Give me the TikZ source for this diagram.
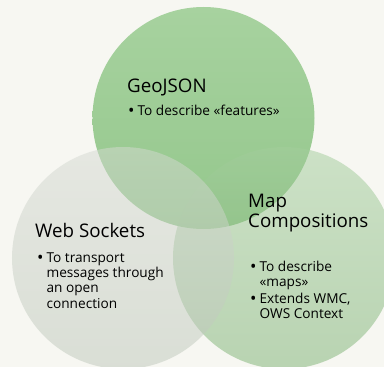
\documentclass[tikz,border=0pt]{standalone}
\usepackage{fontspec}
\setmainfont{Open Sans}
\usepackage{tikz}
\usetikzlibrary{shapes.geometric, positioning, calc}
\usepackage{xcolor}

\definecolor{bgpaper}{RGB}{247,247,242}
\definecolor{geotop}{RGB}{167,210,159}
\definecolor{geobot}{RGB}{148,199,140}
\definecolor{maptop}{RGB}{163,205,156}
\definecolor{mapbot}{RGB}{123,177,114}
\definecolor{webtop}{RGB}{213,217,210}
\definecolor{webbot}{RGB}{189,199,186}

\newcommand{\bul}{\raisebox{-1.2pt}{\scalebox{1.25}{\textbullet}}}

\begin{document}
\begin{tikzpicture}[x=1bp, y=1bp,
    blob/.style={circle, inner sep=0pt, minimum size=222bp},
    title/.style={anchor=base west, inner sep=0pt, font=\fontsize{18.8}{20}\selectfont, align=left},
    body/.style={anchor=base west, inner sep=0pt, font=\fontsize{13.7}{15.5}\selectfont},
  ]
      \useasboundingbox[fill=bgpaper] (0, 0) rectangle (384, 367);

      % the three circles
      \node[blob, top color=geotop, bottom color=geobot] (geo) at (203.5, 249) {};
      \node[blob, top color=maptop, bottom color=mapbot, fill opacity=0.5] (map) at (284, 109) {};
      \node[blob, top color=webtop, bottom color=webbot, fill opacity=0.5] (web) at (123, 109) {};

      % texts
      \node[title] (geotitle) at (127, 275) {GeoJSON};
      \node[body] (geotext) at (128, 252) {\begin{tabular}[t]{@{}l@{\hspace{3pt}}l@{}}
        \bul & To describe «features»
      \end{tabular}};

      \node[title] (webtitle) at (35, 130) {Web Sockets};
      \node[body] (webtext) at (37, 105) {\begin{tabular}[t]{@{}l@{\hspace{3pt}}l@{}}
        \bul & To transport\\
             & messages through\\
             & an open\\
             & connection
      \end{tabular}};

      \node[title] (maptitle) at (248, 140) {Map\\Compositions};
      \node[body] (maptext) at (250, 96) {\begin{tabular}[t]{@{}l@{\hspace{3pt}}l@{}}
        \bul & To describe\\
             & «maps»\\[1.5pt]
        \bul & Extends WMC,\\
             & OWS Context
      \end{tabular}};

    \end{tikzpicture}
\end{document}
